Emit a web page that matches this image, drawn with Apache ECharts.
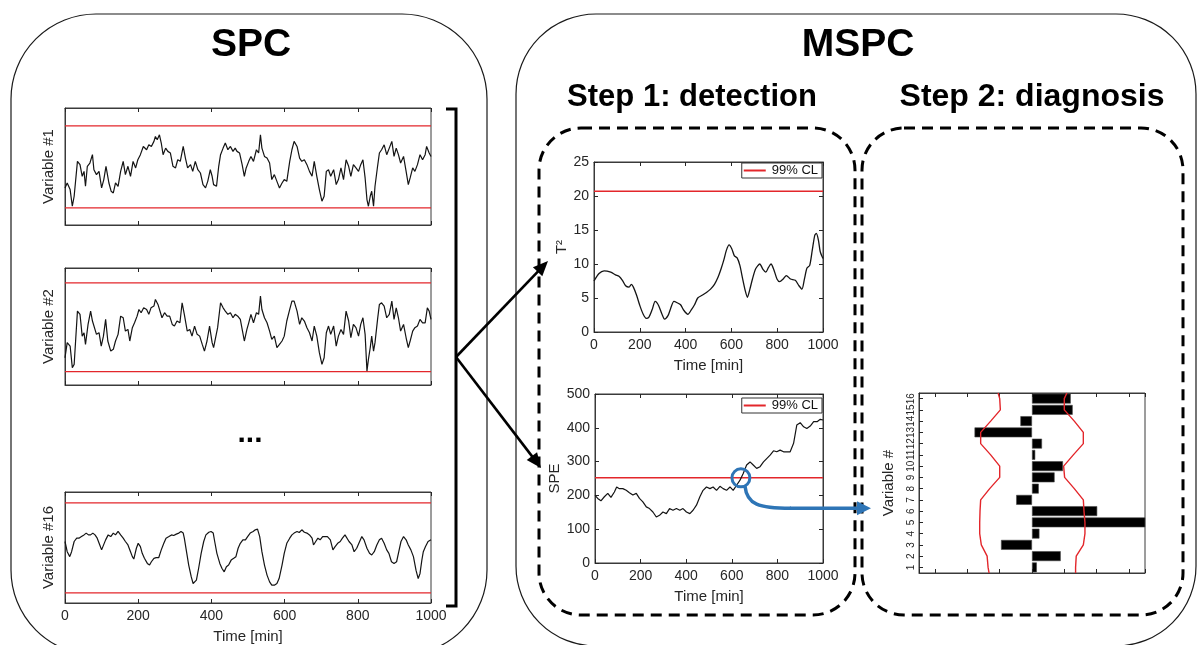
<!DOCTYPE html>
<html>
<head>
<meta charset="utf-8">
<script src="https://cdn.jsdelivr.net/npm/echarts@6.0.0/dist/echarts.min.js"></script>
<style>
html,body{margin:0;padding:0;background:#ffffff;}
#chart{width:1198px;height:645px;}
</style>
</head>
<body>
<div id="chart"></div>
<script>
// ================= DATA =================
const timeMin = 0, timeMax = 1000, timeStep = 200;
const spcUCL = 3, spcLCL = -3;

const var1 = [[0,-1.54],[6,-1.18],[14,-1.66],[20,-2.88],[25,-2.15],[34,0.40],[41,0.16],[47,-0.69],[52,-0.33],[56,-1.42],[61,0.04],[68,0.28],[75,0.89],[79,-0.21],[86,-0.57],[93,-0.33],[100,-1.54],[106,-0.93],[112,0.04],[120,-1.18],[126,-1.78],[132,-1.91],[138,-1.18],[145,-1.42],[152,-0.33],[159,0.40],[165,-0.57],[172,0.04],[179,-0.69],[186,0.40],[193,-0.08],[199,0.52],[206,0.89],[214,1.49],[223,1.25],[229,1.61],[236,1.49],[243,1.86],[247,2.22],[252,1.98],[258,2.34],[263,1.74],[268,0.89],[275,1.37],[281,1.13],[288,1.01],[295,0.04],[302,-0.08],[308,0.52],[315,0.40],[323,1.49],[329,0.64],[335,-0.08],[343,0.16],[349,-0.33],[356,0.40],[363,-0.21],[370,-0.45],[377,-1.30],[384,-1.54],[390,-1.06],[397,-0.21],[402,-0.69],[406,-1.30],[414,-1.42],[420,0.04],[425,0.89],[432,1.37],[438,1.74],[445,1.25],[452,1.49],[459,1.13],[465,1.37],[470,1.13],[477,1.01],[484,0.16],[490,-0.69],[495,-0.08],[502,0.40],[508,0.76],[515,0.40],[523,1.25],[529,1.01],[534,2.34],[538,1.37],[545,0.76],[552,0.64],[559,0.28],[565,-0.93],[572,-0.57],[579,-1.06],[586,-1.54],[593,-1.18],[599,-0.93],[606,-1.06],[614,0.40],[620,1.25],[626,1.86],[634,1.49],[641,0.64],[647,0.40],[654,0.52],[661,0.16],[668,-0.33],[675,-0.69],[681,0.40],[688,-0.69],[695,-1.66],[702,-2.51],[708,-2.15],[714,-0.33],[720,-0.21],[726,-0.69],[734,-0.21],[741,-1.30],[747,-0.93],[754,-0.08],[761,-0.93],[768,0.52],[775,0.04],[781,-0.69],[788,0.16],[795,-0.08],[802,-0.33],[808,0.16],[814,0.52],[820,-0.81],[825,-2.39],[829,-2.88],[834,-2.15],[838,-1.78],[843,-2.88],[847,-1.42],[854,0.04],[859,1.01],[865,1.25],[872,1.61],[879,0.89],[886,1.37],[893,1.86],[899,0.76],[905,1.37],[911,0.89],[917,0.28],[925,0.76],[932,-0.33],[938,-1.30],[943,-0.81],[950,-0.08],[956,-0.33],[963,0.16],[970,0.89],[977,0.52],[984,0.89],[988,1.49],[995,1.01],[1000,0.76]];

const var2 = [[0,-2.06],[6,-1.04],[14,-1.27],[20,-2.73],[25,-2.51],[34,1.09],[41,0.87],[47,-0.60],[52,-0.37],[56,-1.16],[63,0.19],[70,1.09],[75,0.42],[79,0.53],[86,-0.48],[93,-0.37],[99,-1.27],[105,-0.60],[111,0.53],[117,-0.93],[125,-1.61],[132,-1.49],[138,-0.93],[145,-0.48],[152,0.75],[159,0.64],[165,-0.26],[172,-0.15],[177,-0.93],[184,-0.03],[190,0.30],[197,0.75],[202,1.20],[208,0.98],[215,1.31],[223,1.20],[229,0.87],[235,1.31],[243,1.43],[247,1.88],[254,1.54],[259,1.65],[265,0.64],[272,0.98],[279,0.75],[286,0.75],[293,0.19],[299,0.08],[306,0.42],[314,0.30],[320,1.65],[326,0.87],[334,-0.26],[341,-0.15],[347,-0.60],[354,0.08],[361,-0.48],[368,-0.60],[375,-1.16],[381,-1.61],[388,-0.93],[395,0.08],[402,-1.04],[406,-1.38],[411,-1.27],[417,-0.03],[425,1.65],[432,1.31],[438,1.09],[445,0.87],[452,0.98],[459,0.64],[465,0.87],[472,0.75],[479,0.53],[485,-0.26],[490,-0.93],[497,-0.15],[502,0.30],[508,0.87],[515,0.30],[523,0.98],[529,0.87],[534,2.10],[538,1.20],[545,0.64],[552,0.30],[559,-0.26],[565,-0.82],[572,-0.60],[579,-1.38],[586,-1.16],[593,-0.93],[599,-0.60],[606,0.42],[614,1.20],[620,1.76],[626,1.76],[634,1.09],[641,0.19],[647,0.64],[654,0.42],[661,-0.03],[668,-0.37],[675,-0.93],[681,0.08],[688,-0.60],[695,-1.72],[702,-2.51],[708,-2.06],[714,-0.37],[720,0.08],[726,-0.48],[734,0.08],[741,-1.27],[747,-0.60],[754,-0.15],[761,-0.48],[768,1.09],[775,0.42],[781,-0.71],[788,0.19],[795,-0.03],[802,-0.60],[808,0.19],[814,0.64],[820,-0.48],[825,-2.96],[829,-2.17],[834,-1.38],[838,-0.60],[843,-1.61],[847,-1.04],[854,0.53],[859,1.54],[865,1.65],[872,1.43],[879,0.64],[886,0.87],[893,1.76],[899,0.53],[905,1.31],[911,0.64],[917,-0.26],[925,0.19],[932,-0.71],[938,-1.38],[943,-0.93],[950,-0.26],[956,-0.03],[963,0.08],[970,0.53],[977,0.30],[984,0.30],[990,1.31],[995,1.09],[1000,0.53]];

const var16 = [[0,0.43],[6,-0.25],[13,-0.58],[18,-0.25],[25,0.43],[32,0.65],[38,0.65],[45,0.76],[52,0.87],[58,0.99],[64,0.87],[70,0.87],[76,0.99],[82,0.87],[88,0.65],[95,0.20],[100,-0.13],[105,-0.02],[111,0.54],[118,0.87],[125,0.76],[132,0.99],[138,0.87],[145,1.10],[152,0.87],[159,0.65],[165,0.43],[172,0.20],[179,-0.25],[184,-0.58],[188,-0.74],[195,-0.02],[200,0.31],[206,0.09],[211,-0.36],[217,-0.69],[225,-1.03],[231,-1.14],[236,-0.92],[243,-0.69],[249,-0.65],[256,-0.65],[263,-0.13],[270,0.31],[276,0.65],[284,0.76],[291,0.87],[297,0.83],[304,0.92],[311,0.99],[317,1.10],[323,0.99],[326,0.65],[332,-0.25],[338,-1.14],[345,-1.93],[350,-2.37],[354,-2.48],[359,-2.15],[365,-1.37],[372,-0.36],[379,0.43],[385,0.87],[393,1.05],[399,1.10],[405,0.99],[409,0.43],[415,-0.36],[423,-1.03],[429,-1.37],[435,-1.59],[441,-1.25],[447,-1.14],[454,-0.81],[461,-0.69],[467,-0.58],[473,-0.02],[479,0.31],[486,0.54],[493,0.54],[499,0.76],[506,0.99],[514,1.10],[520,1.21],[526,1.25],[532,0.76],[538,-0.25],[545,-1.14],[552,-1.81],[559,-2.26],[565,-2.48],[572,-2.48],[579,-2.37],[585,-2.04],[593,-1.14],[599,-0.36],[606,0.31],[614,0.65],[620,0.87],[626,0.99],[634,1.10],[640,1.03],[647,1.21],[654,1.05],[661,0.99],[668,0.87],[675,0.65],[679,0.20],[685,0.43],[691,0.65],[697,0.54],[704,0.76],[711,0.76],[717,0.76],[725,0.54],[732,-0.13],[738,0.09],[745,0.31],[752,0.43],[758,0.65],[765,0.87],[770,0.76],[776,0.43],[784,0.20],[790,-0.25],[797,-0.02],[805,0.43],[811,0.76],[817,0.54],[825,-0.02],[832,-0.36],[838,-0.47],[845,-0.25],[852,0.20],[859,0.54],[865,0.65],[872,0.31],[879,-0.13],[885,-0.36],[892,-0.92],[899,-1.03],[906,-0.92],[912,-0.25],[918,0.43],[925,0.76],[932,0.54],[938,0.20],[945,-0.13],[952,-0.58],[959,-1.48],[965,-2.04],[970,-1.70],[975,-0.81],[979,-0.25],[985,0.09],[992,0.43],[1000,0.54]];

const t2 = [[0,7.5],[22,8.6],[44,9.0],[73,8.8],[94,8.4],[109,8.2],[124,7.6],[138,6.8],[153,6.6],[163,7.0],[172,6.6],[186,5.4],[201,3.8],[215,2.6],[228,2.0],[240,2.2],[254,3.3],[267,4.5],[282,3.9],[297,2.6],[308,1.9],[323,2.4],[334,3.4],[349,4.5],[363,4.3],[378,4.0],[392,3.2],[410,2.6],[424,3.2],[439,4.0],[453,5.0],[472,5.4],[491,5.8],[509,6.3],[526,7.0],[541,8.0],[555,9.3],[567,10.6],[578,12.0],[590,12.8],[602,12.2],[613,11.2],[625,10.9],[637,9.8],[648,8.0],[661,6.0],[670,5.1],[680,6.2],[692,7.8],[706,9.3],[724,10.0],[738,9.2],[750,8.8],[762,9.5],[773,10.0],[785,9.2],[799,7.8],[811,7.4],[826,7.8],[840,8.3],[858,7.8],[879,7.6],[895,6.8],[908,6.3],[919,7.8],[930,9.4],[942,9.8],[953,12.0],[964,14.2],[971,14.5],[980,13.5],[988,11.8],[1000,10.8]];
const t2CL = 20.7;
const t2Ticks = {min: 0, max: 25, step: 5};

const spe = [[0,200],[12,191],[26,184],[41,196],[56,206],[70,194],[85,210],[95,225],[107,220],[122,220],[137,215],[151,208],[166,201],[181,206],[195,191],[210,181],[225,166],[239,161],[254,151],[269,136],[283,141],[298,151],[313,146],[327,161],[342,156],[357,161],[372,156],[386,161],[401,151],[416,146],[430,156],[445,171],[460,196],[474,215],[489,225],[504,220],[518,225],[533,215],[548,227],[562,220],[577,215],[592,225],[606,215],[621,230],[636,245],[650,265],[665,290],[680,299],[694,290],[709,280],[724,285],[739,299],[753,309],[768,319],[783,332],[797,329],[812,334],[827,329],[841,329],[856,329],[871,354],[885,408],[900,415],[915,403],[929,398],[944,405],[959,418],[974,418],[988,425],[1000,423]];
const speCL = 252;
const speTicks = {min: 0, max: 500, step: 100};
const faultPoint = [640, 252];

const varLabels = ['1','2','3','4','5','6','7','8','9','10','11','12','13','14','15','16'];
const contrib = [0.15, 0.89, -0.96, 0.23, 3.6, 2.02, -0.49, 0.21, 0.70, 0.96, 0.10, 0.31, -1.78, -0.36, 1.26, 1.20];
const limitPos = [0.5,1,2,3,4,5,6,7,8,9,10,11,12,13,14,15,16,16.5];
const lowerLimit = [-1.33,-1.36,-1.39,-1.57,-1.62,-1.62,-1.61,-1.59,-1.31,-1.00,-1.00,-1.28,-1.59,-1.59,-1.28,-0.98,-1.00,-1.05];
const upperLimit = [1.35,1.35,1.37,1.59,1.64,1.64,1.61,1.59,1.31,1.01,0.98,1.28,1.59,1.59,1.31,1.00,1.00,1.08];
const contribRange = {min: -3.5, max: 3.5};

// ================= STYLE / BUILD =================
const FONT = '"Liberation Sans", Arial, Helvetica, sans-serif';
const AX = '#262626';
const BORDER = '#3a3a3a';
const RED = '#e3262b';
const LINE = '#141414';
const BLUE = '#2e75b6';

const grids = [], xAxes = [], yAxes = [], series = [];
const plainNum = function(v){ return String(v); };

function tick(show){ return {show: show, inside: true, length: 4, lineStyle: {color: AX, width: 1}}; }
const axLine = {show: true, onZero: false, lineStyle: {color: BORDER, width: 1}};

function makePlot(rect, xCfg, yCfg) {
  const gi = grids.length;
  grids.push({left: rect[0], top: rect[1], width: rect[2], height: rect[3], show: true,
    borderColor: BORDER, borderWidth: 1, backgroundColor: '#fff', containLabel: false, outerBoundsMode: 'none'});
  const xb = xAxes.length;
  const xBase = Object.assign({gridIndex: gi, axisLine: axLine, splitLine: {show: false}}, xCfg.base);
  xAxes.push(Object.assign({}, xBase, {position: 'bottom', axisTick: tick(xCfg.ticks),
    axisLabel: {show: !!xCfg.labels, color: AX, fontSize: 14, fontFamily: FONT, margin: 6, formatter: plainNum},
    name: xCfg.name || '', nameLocation: 'middle', nameGap: 26,
    nameTextStyle: {color: AX, fontSize: 15, fontFamily: FONT}}));
  xAxes.push(Object.assign({}, xBase, {position: 'top', axisTick: tick(xCfg.ticks), axisLabel: {show: false}}));
  const yl = yAxes.length;
  const yBase = Object.assign({gridIndex: gi, axisLine: axLine, splitLine: {show: false}}, yCfg.base);
  yAxes.push(Object.assign({}, yBase, {position: 'left', axisTick: Object.assign(tick(yCfg.ticks), yCfg.tickExtra||{}),
    axisLabel: Object.assign({show: !!yCfg.labels, color: AX, fontSize: 14, fontFamily: FONT, margin: 5, formatter: plainNum}, yCfg.labelExtra||{}),
    name: yCfg.name || '', nameLocation: 'middle', nameRotate: 90, nameGap: yCfg.nameGap,
    nameTextStyle: {color: AX, fontSize: 15, fontFamily: FONT}}));
  if (yCfg.mirror) {
    yAxes.push(Object.assign({}, yBase, {position: 'right', axisTick: tick(yCfg.ticks), axisLabel: {show: false}}));
  }
  return {gi: gi, xb: xb, yl: yl};
}

function addLine(ax, data, color, width, name, smooth, yIdx) {
  series.push({type: 'line', name: name, xAxisIndex: ax.xb, yAxisIndex: (yIdx === undefined ? ax.yl : yIdx),
    data: data, symbol: 'none', showSymbol: false, smooth: smooth || false,
    lineStyle: {color: color, width: width}, itemStyle: {color: color}, animation: false, silent: true, z: 3});
}

const timeX = {base: {type: 'value', min: timeMin, max: timeMax, interval: timeStep}, ticks: true};

// SPC plots
const spcDefs = [
  {rect: [65, 108, 366, 117], ymin: -4.25, ymax: 4.3, data: var1, name: 'Variable #1', xl: false},
  {rect: [65, 268, 366, 117], ymin: -3.9, ymax: 4.0, data: var2, name: 'Variable #2', xl: false},
  {rect: [65, 492, 366, 111], ymin: -3.67, ymax: 3.73, data: var16, name: 'Variable #16', xl: true}
];
spcDefs.forEach(function(d){
  const ax = makePlot(d.rect,
    Object.assign({}, timeX, {labels: d.xl, name: d.xl ? 'Time [min]' : ''}),
    {base: {type: 'value', min: d.ymin, max: d.ymax}, ticks: false, labels: false, name: d.name, nameGap: 9});
  addLine(ax, [[timeMin, spcUCL], [timeMax, spcUCL]], RED, 1.3, 'UCL');
  addLine(ax, [[timeMin, spcLCL], [timeMax, spcLCL]], RED, 1.3, 'LCL');
  addLine(ax, d.data, LINE, 1.2, d.name);
});

// T2 plot
const t2Ax = makePlot([594, 162, 229, 170],
  Object.assign({}, timeX, {labels: true, name: 'Time [min]'}),
  {base: {type: 'value', min: t2Ticks.min, max: t2Ticks.max, interval: t2Ticks.step}, ticks: true, labels: true, name: 'T²', nameGap: 23, mirror: true});
addLine(t2Ax, [[timeMin, t2CL], [timeMax, t2CL]], RED, 1.5, '99% CL');
addLine(t2Ax, t2, LINE, 1.3, 'T2', 0.25);

// SPE plot
const speAx = makePlot([595, 394, 228, 169],
  Object.assign({}, timeX, {labels: true, name: 'Time [min]'}),
  {base: {type: 'value', min: speTicks.min, max: speTicks.max, interval: speTicks.step}, ticks: true, labels: true, name: 'SPE', nameGap: 33, mirror: true});
addLine(speAx, [[timeMin, speCL], [timeMax, speCL]], RED, 1.5, '99% CL');
addLine(speAx, spe, LINE, 1.2, 'SPE');

// Contribution plot
const barAx = makePlot([919, 393, 226, 180],
  {base: {type: 'value', min: contribRange.min, max: contribRange.max, splitNumber: 7}, ticks: true, labels: false, name: ''},
  {base: {type: 'category', data: varLabels, boundaryGap: true}, ticks: true, labels: true,
   tickExtra: {alignWithLabel: true, interval: 0},
   labelExtra: {rotate: 90, fontSize: 10, margin: 3, interval: 0, color: AX, formatter: null},
   name: 'Variable #', nameGap: 23});
const barValY = yAxes.length;
yAxes.push({type: 'value', gridIndex: barAx.gi, min: limitPos[0], max: limitPos[limitPos.length-1], show: false});
series.push({type: 'bar', name: 'contrib', xAxisIndex: barAx.xb, yAxisIndex: barAx.yl, data: contrib,
  barCategoryGap: '12%', clip: true, itemStyle: {color: '#000', borderColor: '#4a4a4a', borderWidth: 0.6},
  animation: false, silent: true, z: 2});
addLine(barAx, lowerLimit.map(function(v,i){return [v, limitPos[i]];}), RED, 1.4, 'lower', false, barValY);
addLine(barAx, upperLimit.map(function(v,i){return [v, limitPos[i]];}), RED, 1.4, 'upper', false, barValY);

const legendBase = {data: ['99% CL'], orient: 'horizontal', right: 376, icon: 'rect', itemWidth: 22, itemHeight: 2, itemGap: 0,
  padding: [1, 4, 1, 2], borderColor: '#333', borderWidth: 1, backgroundColor: '#fff', selectedMode: false,
  textStyle: {fontSize: 13, color: '#111', fontFamily: FONT, lineHeight: 13, padding: [0, 0, 0, 1]}};

const option = {
  backgroundColor: '#ffffff',
  animation: false,
  grid: grids,
  xAxis: xAxes,
  yAxis: yAxes,
  legend: [Object.assign({}, legendBase, {top: 163}), Object.assign({}, legendBase, {top: 398})],
  series: series
};

const chart = echarts.init(document.getElementById('chart'), null, {renderer: 'canvas'});
chart.setOption(option);

// ================= DECORATIONS =================
function txt(x, y, text, font) {
  return {type: 'text', x: x, y: y, silent: true, z: 10,
    style: {text: text, font: font, fill: '#000', align: 'center', verticalAlign: 'middle',
            textAlign: 'center', textVerticalAlign: 'middle'}};
}
function arrow(x1, y1, x2, y2, color, w, L, H) {
  const dx = x2 - x1, dy = y2 - y1, len = Math.hypot(dx, dy);
  const ux = dx / len, uy = dy / len;
  const bx = x2 - ux * L, by = y2 - uy * L;
  return [
    {type: 'line', silent: true, z: 10, shape: {x1: x1, y1: y1, x2: bx + ux, y2: by + uy}, style: {stroke: color, lineWidth: w}},
    {type: 'polygon', silent: true, z: 10, shape: {points: [[x2, y2], [bx - uy * H, by + ux * H], [bx + uy * H, by - ux * H]]}, style: {fill: color}}
  ];
}

const g = [];
g.push({type: 'rect', silent: true, z: 10, shape: {x: 11, y: 14, width: 476, height: 641, r: 85}, style: {fill: 'none', stroke: '#1a1a1a', lineWidth: 1.2}});
g.push({type: 'rect', silent: true, z: 10, shape: {x: 516, y: 14, width: 680, height: 632, r: 80}, style: {fill: 'none', stroke: '#1a1a1a', lineWidth: 1.2}});
g.push({type: 'rect', silent: true, z: 10, shape: {x: 539, y: 128, width: 316, height: 487, r: 42}, style: {fill: 'none', stroke: '#000', lineWidth: 3, lineDash: [11, 7]}});
g.push({type: 'rect', silent: true, z: 10, shape: {x: 862, y: 128, width: 321, height: 487, r: 42}, style: {fill: 'none', stroke: '#000', lineWidth: 3, lineDash: [11, 7]}});

g.push(txt(251, 45, 'SPC', 'bold 39px ' + FONT));
g.push(txt(858, 45, 'MSPC', 'bold 39px ' + FONT));
g.push(txt(692, 97, 'Step 1: detection', 'bold 31px ' + FONT));
g.push(txt(1032, 97, 'Step 2: diagnosis', 'bold 32px ' + FONT));
g.push(txt(250, 434, '...', 'bold 30px ' + FONT));

// bracket
g.push({type: 'polyline', silent: true, z: 10, shape: {points: [[446, 109], [456, 109], [456, 606], [446, 606]]}, style: {fill: 'none', stroke: '#000', lineWidth: 3}});
arrow(456, 357, 548, 261, '#000', 2.6, 15, 6.5).forEach(function(e){ g.push(e); });
arrow(456, 357, 541, 468, '#000', 2.6, 15, 6.5).forEach(function(e){ g.push(e); });

// blue circle + arrow at fault point
const c = chart.convertToPixel({gridIndex: speAx.gi}, faultPoint);
const cx = c[0], cy = c[1];
g.push({type: 'circle', silent: true, z: 11, shape: {cx: cx, cy: cy, r: 9}, style: {fill: 'none', stroke: BLUE, lineWidth: 3}});
g.push({type: 'bezierCurve', silent: true, z: 11, shape: {x1: cx + 4, y1: cy + 8, cpx1: cx + 6, cpy1: cy + 27, cpx2: cx + 18, cpy2: cy + 30.5, x2: cx + 50, y2: cy + 30.5}, style: {fill: 'none', stroke: BLUE, lineWidth: 3.5}});
arrow(cx + 49, cy + 30.5, 871, cy + 30.5, BLUE, 3.5, 14, 7).forEach(function(e){ e.z = 11; g.push(e); });

chart.setOption({graphic: {elements: g}});
</script>
</body>
</html>
